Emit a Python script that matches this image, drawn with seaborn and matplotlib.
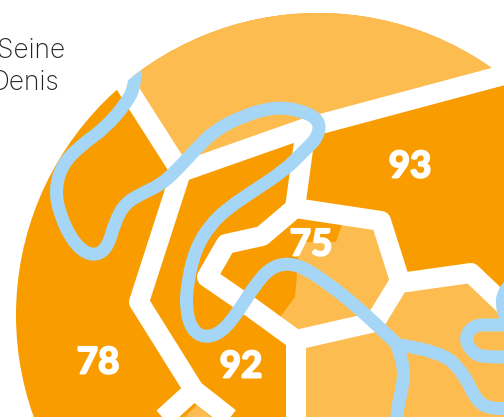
import matplotlib
matplotlib.use("Agg")
import matplotlib.pyplot as plt
from matplotlib.patches import Circle, PathPatch
from matplotlib.path import Path
from matplotlib import patheffects
import seaborn as sns

# departement numbers and where they sit
dept_labels = ["93", "75", "78", "92"]
dept_x = [410, 311, 98, 241]
dept_y = [167, 245, 363, 367]

# map shapes, in picture pixels
light_north = [(100, 50), (137, 103), (176, 165), (196, 168), (252, 147), (306, 128), (530, 68), (530, 0), (100, 0)]
light_paris = [(342, 224), (336, 242), (299, 242), (297, 274), (295, 297), (280, 317), (296, 340), (375, 322), (401, 283), (381, 221)]
light_east = [(296, 340), (375, 322), (401, 283), (471, 273), (515, 315), (515, 430), (296, 430)]
light_south = [(197, 405), (150, 450), (250, 450)]

border_north = [(110, 60), (137, 103), (181, 172)]
border_west = [(150, 430), (194, 390), (139, 302), (181, 172), (252, 147), (306, 128), (530, 68)]
border_inner = [(306, 128), (295, 208), (262, 236), (226, 244), (207, 277), (252, 308), (296, 340), (296, 430)]
border_paris = [(295, 208), (381, 221), (400, 281), (375, 322), (296, 340)]
border_east = [(400, 283), (471, 273), (515, 315)]
border_low = [(194, 390), (245, 430)]

# the river, as control points
river_main = [(136, 55), (136, 85), (125, 105), (105, 128), (80, 146), (62, 165), (55, 190), (60, 215), (72, 240),
              (85, 253), (98, 255), (108, 246), (115, 222), (125, 203), (145, 192), (160, 185), (175, 172),
              (195, 150), (215, 130), (245, 115), (275, 107), (300, 110), (320, 120), (318, 137), (305, 150),
              (285, 170), (255, 190), (228, 208), (210, 225), (195, 250), (187, 285), (186, 310), (192, 330),
              (205, 338), (222, 332), (238, 312), (255, 285), (270, 268), (287, 263), (305, 268), (330, 285),
              (355, 305), (380, 328), (400, 347)]
river_east = [(400, 345), (440, 351), (463, 372), (477, 402), (492, 409), (515, 408)]
river_branch = [(396, 342), (404, 365), (403, 385), (398, 405), (396, 425)]
river_hook = [(515, 325), (490, 325), (474, 325), (464, 338), (474, 355), (490, 357), (515, 357)]
river_top = [(515, 280), (503, 290), (502, 310), (510, 325)]

ORANGE = "#F89C00"
LIGHT = "#FDBC50"
BLUE = "#A5D6F5"
PX = 0.72  # line widths are given in pixels

sns.set_theme(style="white")
plt.rcParams["font.family"] = ["Inter", "DejaVu Sans"]

fig = plt.figure(figsize=(5.04, 4.17), dpi=100)
ax = fig.add_axes([0, 0, 1, 1])
ax.set_xlim(0, 504)
ax.set_ylim(417, 0)
ax.axis("off")

disc = Circle((318, 315), 302, facecolor=ORANGE, edgecolor="none", zorder=1)
ax.add_patch(disc)

for shape in [light_north, light_paris, light_east, light_south]:
    xs, ys = zip(*shape)
    for p in ax.fill(xs, ys, color=LIGHT, lw=0, zorder=2):
        p.set_clip_path(disc)

for border in [border_north, border_west, border_inner, border_paris, border_east, border_low]:
    xs, ys = zip(*border)
    sns.lineplot(x=list(xs), y=list(ys), sort=False, estimator=None, color="white",
                 linewidth=20 * PX, solid_joinstyle="round", solid_capstyle="butt", ax=ax, legend=False, zorder=3)


def river_path(points):
    # quadratic curve through the midpoints of the control points
    verts = [points[0]]
    codes = [Path.MOVETO]
    for a, b in zip(points[1:-1], points[2:]):
        mid = ((a[0] + b[0]) / 2, (a[1] + b[1]) / 2)
        verts += [a, mid]
        codes += [Path.CURVE3, Path.CURVE3]
    verts.append(points[-1])
    codes.append(Path.LINETO)
    return Path(verts, codes)


for river in [river_top, river_hook, river_branch, river_east, river_main]:
    patch = PathPatch(river_path(river), facecolor="none", edgecolor=BLUE, linewidth=13 * PX,
                      capstyle="butt", joinstyle="round", zorder=4)
    ax.add_patch(patch)
    patch.set_clip_path(disc)

for label, x, y in zip(dept_labels, dept_x, dept_y):
    ax.text(x, y, label, color="white", fontsize=26.5, fontweight="bold", family=["Lato", "DejaVu Sans"],
            ha="center", va="center", zorder=5,
            path_effects=[patheffects.withStroke(linewidth=1.4, foreground="white")])

ax.text(65, 51, "Seine", color="#222222", fontsize=19, fontweight="light", ha="right", va="center", zorder=5)
ax.text(59, 83, "Denis", color="#222222", fontsize=19, fontweight="light", ha="right", va="center", zorder=5)

fig.savefig("out.png", dpi=100)
